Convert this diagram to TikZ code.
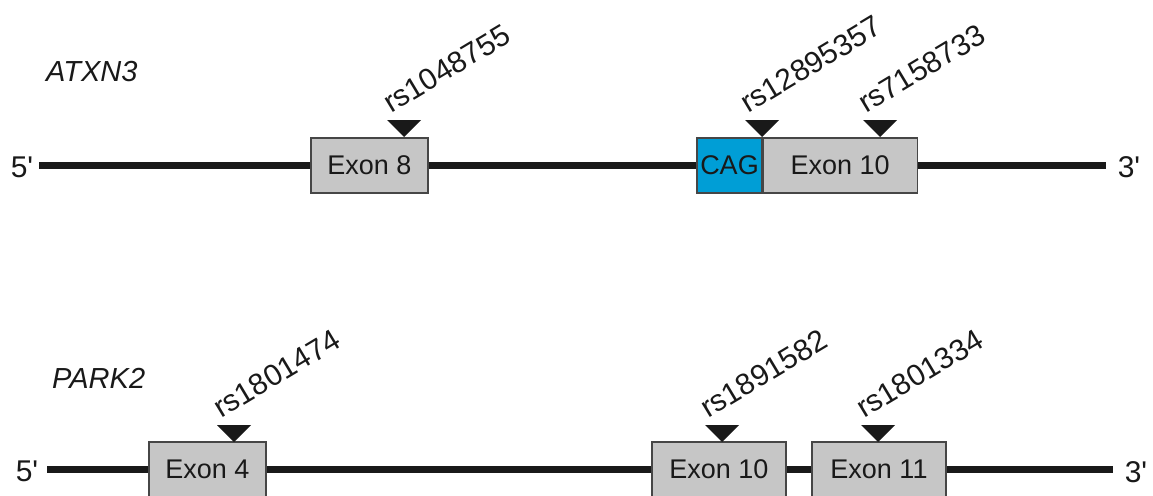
\documentclass[tikz,border=0pt]{standalone}
\usepackage{fontspec}
\setmainfont{Liberation Sans}
\definecolor{exongray}{RGB}{198,198,198}
\definecolor{caqblue}{RGB}{0,158,214}
\definecolor{boxline}{RGB}{70,70,70}
\definecolor{txt}{RGB}{25,25,25}
\begin{document}
\begin{tikzpicture}[x=1pt,y=-1pt,
  exon/.style={draw=boxline,line width=1.2pt,fill=exongray,minimum height=55pt,inner sep=0pt,font=\fontsize{27}{27}\selectfont,text=txt},
  cagbox/.style={exon,fill=caqblue},
  gene/.style={line width=7pt,black!90},
  endlab/.style={font=\fontsize{30}{30}\selectfont,text=txt,inner sep=0pt},
  genelab/.style={font=\fontsize{29}{29}\selectfont\itshape,text=txt,inner sep=0pt,anchor=west},
  snplab/.style={font=\fontsize{30}{30}\selectfont,text=txt,inner sep=0pt,anchor=base west,rotate=31},
  snptri/.style={fill=black!90}]
\useasboundingbox (0,0) rectangle (1153,495);
% ---------- ATXN3 ----------
\node[genelab] (atxn3) at (46,72) {ATXN3};
\node[endlab] (a5) at (22,167) {5\textquotesingle};
\node[endlab] (a3) at (1129,167) {3\textquotesingle};
\coordinate (a5e) at (39,165);
\coordinate (a3e) at (1106,165);
\draw[gene] (a5e) -- (a3e);
\node[exon,minimum width=117pt] (ex8) at (369.5,165.5) {Exon 8};
\node[cagbox,minimum width=65pt] (cag) at (729.5,165.5) {CAG};
\node[exon,minimum width=154pt,anchor=west] (ex10a) at (cag.east) {Exon 10};
\fill[snptri] (387,120) -- (421,120) -- (404,137) -- cycle;
\fill[snptri] (745,120) -- (779,120) -- (762,137) -- cycle;
\fill[snptri] (863,120) -- (897,120) -- (880,137) -- cycle;
\node[snplab] (s1) at (391,114) {rs1048755};
\node[snplab] (s2) at (748,114) {rs12895357};
\node[snplab] (s3) at (866,114) {rs7158733};
% ---------- PARK2 ----------
\node[genelab] (park2) at (52,378) {PARK2};
\node[endlab] (p5) at (27,471) {5\textquotesingle};
\node[endlab] (p3) at (1136,472) {3\textquotesingle};
\coordinate (p5e) at (47,469);
\coordinate (p3e) at (1113,469);
\draw[gene] (p5e) -- (p3e);
\node[exon,minimum width=117pt] (ex4) at (207.5,469.5) {Exon 4};
\node[exon,minimum width=134pt] (ex10b) at (719,469.5) {Exon 10};
\node[exon,minimum width=134pt] (ex11) at (879,469.5) {Exon 11};
\fill[snptri] (217,425) -- (251,425) -- (234,442) -- cycle;
\fill[snptri] (705,425) -- (739,425) -- (722,442) -- cycle;
\fill[snptri] (861,425) -- (895,425) -- (878,442) -- cycle;
\node[snplab] (s4) at (221,419) {rs1801474};
\node[snplab] (s5) at (708,419) {rs1891582};
\node[snplab] (s6) at (864,419) {rs1801334};
\end{tikzpicture}
\end{document}
